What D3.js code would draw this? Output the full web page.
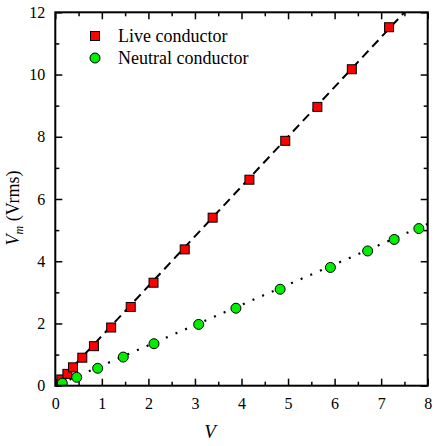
<!DOCTYPE html>
<html><head><meta charset="utf-8"><script src="https://cdn.jsdelivr.net/npm/d3@7"></script></head>
<body style="margin:0">
<svg id="chart" width="436" height="446"></svg>
<script>
// ---- data ----
const liveX = [0.03, 0.13, 0.26, 0.38, 0.58, 0.83, 1.20, 1.62, 2.11, 2.78, 3.38, 4.17, 4.94, 5.63, 6.37, 7.17];
const liveY = [0.05, 0.20, 0.38, 0.59, 0.90, 1.27, 1.87, 2.53, 3.31, 4.38, 5.40, 6.62, 7.87, 8.96, 10.17, 11.52];
const neutralX = [0.15, 0.46, 0.91, 1.46, 2.12, 3.08, 3.88, 4.83, 5.91, 6.71, 7.28, 7.81];
const neutralY = [0.08, 0.27, 0.56, 0.92, 1.35, 1.97, 2.49, 3.10, 3.80, 4.33, 4.70, 5.05];
const liveFitX = [0, 7.6];
const liveFitY = [0, 12.16];
const neutralFitX = [0.1, 8];
const neutralFitY = [0.06, 5.2];
const xTicks = [0, 1, 2, 3, 4, 5, 6, 7, 8];
const xMinorTicks = [0.5, 1.5, 2.5, 3.5, 4.5, 5.5, 6.5, 7.5];
const yTicks = [0, 2, 4, 6, 8, 10, 12];
const yMinorTicks = [1, 3, 5, 7, 9, 11];
const seriesNames = ["Live conductor", "Neutral conductor"];

// ---- layout ----
const W = 436, H = 446;
const FONT = "Liberation Serif";
const m = {left: 55.3, right: 8.3, top: 12.3, bottom: 60.3};
const svg = d3.select("#chart");
const x = d3.scaleLinear().domain([0, 8]).range([m.left, W - m.right]);
const y = d3.scaleLinear().domain([0, 12]).range([H - m.bottom, m.top]);

svg.append("defs").append("clipPath").attr("id", "clip")
  .append("rect").attr("x", m.left).attr("y", m.top)
  .attr("width", W - m.left - m.right).attr("height", H - m.top - m.bottom);

// fit lines
const line = d3.line().x(d => x(d[0])).y(d => y(d[1]));
const plot = svg.append("g").attr("clip-path", "url(#clip)");
plot.append("path").datum(d3.zip(liveFitX, liveFitY)).attr("d", line)
  .attr("fill", "none").attr("stroke", "#000").attr("stroke-width", 2)
  .attr("stroke-dasharray", "9,5.5");
plot.append("path").datum(d3.zip(neutralFitX, neutralFitY)).attr("d", line)
  .attr("fill", "none").attr("stroke", "#000").attr("stroke-width", 2.2)
  .attr("stroke-dasharray", "2,8.5");

// markers
const sq = 9;
plot.selectAll("rect.live").data(d3.zip(liveX, liveY)).join("rect")
  .attr("class", "live")
  .attr("x", d => x(d[0]) - sq / 2).attr("y", d => y(d[1]) - sq / 2)
  .attr("width", sq).attr("height", sq)
  .attr("fill", "#ff0000").attr("stroke", "#000").attr("stroke-width", 1);
plot.selectAll("circle.neu").data(d3.zip(neutralX, neutralY)).join("circle")
  .attr("class", "neu")
  .attr("cx", d => x(d[0])).attr("cy", d => y(d[1])).attr("r", 5)
  .attr("fill", "#00ee00").attr("stroke", "#000").attr("stroke-width", 1);

// axes
function styleAxis(g) {
  g.attr("font-family", FONT).attr("font-size", 16);
  g.select(".domain").remove();
  g.selectAll("line").attr("stroke", "#000").attr("stroke-width", 1.5);
  g.selectAll("text").attr("fill", "#000").attr("font-family", FONT).attr("font-size", 16);
}
const maj = 7, mnr = 4;
svg.append("g").attr("transform", `translate(0,${H - m.bottom})`)
  .call(d3.axisBottom(x).tickValues(xTicks).tickSizeInner(-maj).tickSizeOuter(0).tickPadding(12).tickFormat(d3.format("d")))
  .call(styleAxis);
svg.append("g").attr("transform", `translate(0,${H - m.bottom})`)
  .call(d3.axisBottom(x).tickValues(xMinorTicks).tickSize(-mnr).tickFormat(""))
  .call(styleAxis);
svg.append("g").attr("transform", `translate(0,${m.top})`)
  .call(d3.axisTop(x).tickValues(xTicks).tickSize(-maj).tickFormat(""))
  .call(styleAxis);
svg.append("g").attr("transform", `translate(0,${m.top})`)
  .call(d3.axisTop(x).tickValues(xMinorTicks).tickSize(-mnr).tickFormat(""))
  .call(styleAxis);
svg.append("g").attr("transform", `translate(${m.left},0)`)
  .call(d3.axisLeft(y).tickValues(yTicks).tickSizeInner(-maj).tickSizeOuter(0).tickPadding(10).tickFormat(d3.format("d")))
  .call(styleAxis);
svg.append("g").attr("transform", `translate(${m.left},0)`)
  .call(d3.axisLeft(y).tickValues(yMinorTicks).tickSize(-mnr).tickFormat(""))
  .call(styleAxis);
svg.append("g").attr("transform", `translate(${W - m.right},0)`)
  .call(d3.axisRight(y).tickValues(yTicks).tickSize(-maj).tickFormat(""))
  .call(styleAxis);
svg.append("g").attr("transform", `translate(${W - m.right},0)`)
  .call(d3.axisRight(y).tickValues(yMinorTicks).tickSize(-mnr).tickFormat(""))
  .call(styleAxis);

// frame
svg.append("rect").attr("x", m.left).attr("y", m.top)
  .attr("width", W - m.left - m.right).attr("height", H - m.top - m.bottom)
  .attr("fill", "none").attr("stroke", "#000").attr("stroke-width", 2);

// axis labels
svg.append("text").attr("x", 210).attr("y", 438).attr("text-anchor", "middle")
  .attr("font-family", FONT).attr("font-size", 19).attr("font-style", "italic").text("V");
const yl = svg.append("text").attr("transform", "translate(19,208) rotate(-90)")
  .attr("font-family", FONT).attr("text-anchor", "middle").attr("font-size", 18);
yl.append("tspan").attr("font-style", "italic").text("V");
yl.append("tspan").attr("font-style", "italic").attr("font-size", 12).attr("dy", 4).text("m");
yl.append("tspan").attr("dy", -4).text(" (Vrms)");

// legend
const leg = svg.append("g").attr("font-family", FONT);
leg.append("rect").attr("x", 95 - sq / 2).attr("y", 36 - sq / 2).attr("width", sq).attr("height", sq)
  .attr("fill", "#ff0000").attr("stroke", "#000").attr("stroke-width", 1);
leg.append("circle").attr("cx", 95).attr("cy", 58).attr("r", 5)
  .attr("fill", "#00ee00").attr("stroke", "#000").attr("stroke-width", 1);
leg.append("text").attr("x", 118).attr("y", 42).attr("font-family", FONT).attr("font-size", 18).text(seriesNames[0]);
leg.append("text").attr("x", 118).attr("y", 64).attr("font-family", FONT).attr("font-size", 18).text(seriesNames[1]);
</script>
</body>
</html>
